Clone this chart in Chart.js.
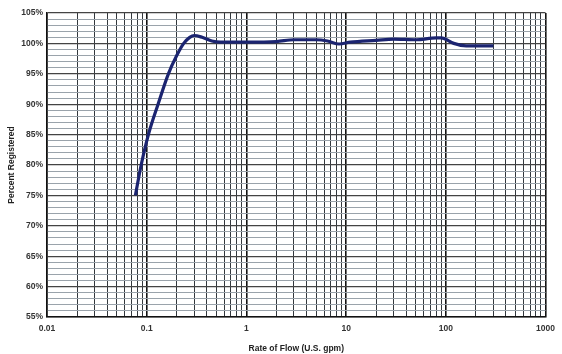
<!DOCTYPE html>
<html>
<head>
<meta charset="utf-8">
<script src="https://cdn.jsdelivr.net/npm/chart.js@4"></script>
<style>
    html, body { margin: 0; padding: 0; background: #fff; }
    #wrap { width: 562px; height: 354px; position: relative; }
</style>
</head>
<body>
<div id="wrap"><canvas id="flow-chart"></canvas></div>
<script>
// Meter accuracy curve: percent registered against flow rate (U.S. gpm)
const flowRates = [0.077, 0.088, 0.104, 0.13, 0.165, 0.20, 0.235, 0.27, 0.30, 0.36, 0.45, 0.55,
    1, 2, 3, 5, 6.5, 8.5, 11, 20, 30, 50, 80, 90, 120, 160, 300];
const percentRegistered = [75, 80, 85, 90, 95, 98, 100, 101, 101.3, 101, 100.4, 100.2,
    100.2, 100.3, 100.6, 100.6, 100.4, 99.9, 100.2, 100.5, 100.7, 100.6, 100.9, 100.9, 100.0, 99.6, 99.6];

const xMin = 0.01, xMax = 1000;
const yMin = 55, yMax = 105;
const xTitle = 'Rate of Flow (U.S. gpm)';
const yTitle = 'Percent Registered';

const labelFont = { family: 'Liberation Sans, Arial, sans-serif', size: 8.5, weight: 'bold' };

function isDecade(v) {
    const l = Math.log10(v);
    return Math.abs(l - Math.round(l)) < 1e-9;
}

// every 1..9 multiple in each decade, for the log paper grid
function logTicks() {
    const ticks = [];
    for (let d = -2; d < 3; d++) {
        for (let m = 1; m <= 9; m++) {
            ticks.push({ value: parseFloat((m * Math.pow(10, d)).toPrecision(3)) });
        }
    }
    ticks.push({ value: xMax });
    return ticks;
}

const points = flowRates.map((x, i) => ({ x: x, y: percentRegistered[i] }));

new Chart(document.getElementById('flow-chart'), {
    type: 'line',
    data: {
        datasets: [{
            data: points,
            borderColor: '#1b2470',
            borderWidth: 3.2,
            pointRadius: 0,
            fill: false,
            cubicInterpolationMode: 'monotone'
        }]
    },
    options: {
        responsive: true,
        maintainAspectRatio: false,
        animation: false,
        layout: { padding: { top: 13, right: 12, left: 0, bottom: 0 } },
        plugins: {
            legend: { display: false },
            tooltip: { enabled: false }
        },
        scales: {
            x: {
                type: 'logarithmic',
                min: xMin,
                max: xMax,
                afterBuildTicks: scale => { scale.ticks = logTicks(); },
                afterFit: scale => { scale.height = 37; },
                border: { color: '#111', width: 1.5 },
                grid: {
                    drawTicks: false,
                    color: ctx => isDecade(ctx.tick.value) ? '#111' : '#33383d',
                    lineWidth: ctx => isDecade(ctx.tick.value) ? 1.6 : 1
                },
                ticks: {
                    autoSkip: false,
                    maxRotation: 0,
                    padding: 7,
                    color: '#333',
                    font: labelFont,
                    callback: v => isDecade(v) ? String(v) : ''
                },
                title: {
                    display: true,
                    text: xTitle,
                    color: '#222',
                    font: labelFont,
                    padding: { top: 2, bottom: 0 }
                }
            },
            y: {
                min: yMin,
                max: yMax,
                afterFit: scale => { scale.width = 47; },
                border: { color: '#111', width: 1.5 },
                grid: {
                    drawTicks: false,
                    color: ctx => ctx.tick.value % 5 === 0 ? '#444' : '#9aa3ab',
                    lineWidth: ctx => ctx.tick.value % 5 === 0 ? 1.3 : 1
                },
                ticks: {
                    stepSize: 1,
                    autoSkip: false,
                    padding: 4,
                    color: '#333',
                    font: labelFont,
                    callback: v => v % 5 === 0 ? v + '%' : ''
                },
                title: {
                    display: true,
                    text: yTitle,
                    color: '#222',
                    font: labelFont,
                    padding: { top: 7, bottom: 4 }
                }
            }
        }
    }
});
</script>
</body>
</html>
